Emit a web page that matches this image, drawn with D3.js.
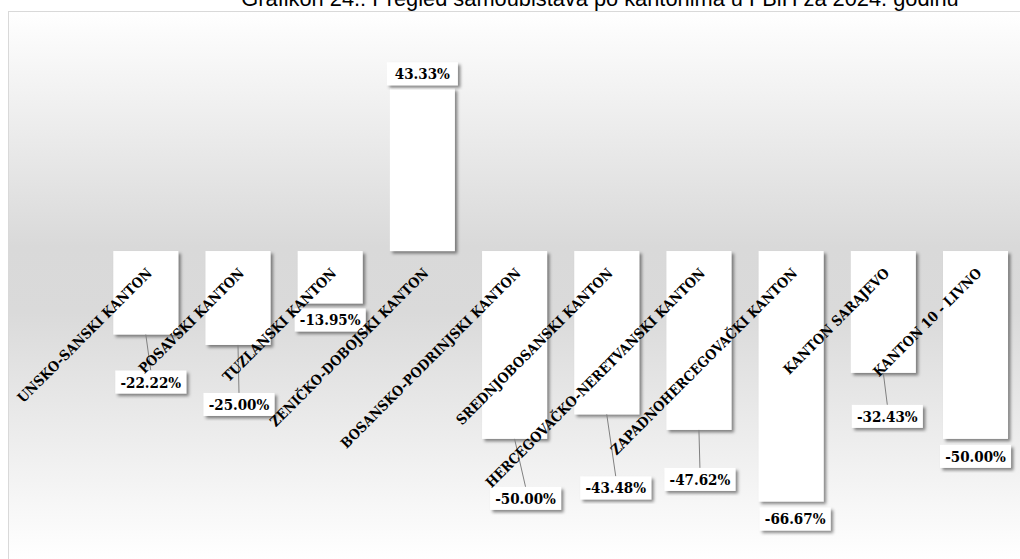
<!DOCTYPE html>
<html>
<head>
<meta charset="utf-8">
<script src="https://cdn.jsdelivr.net/npm/d3@7"></script>
<style>
  html, body { margin: 0; padding: 0; background: #ffffff; }
  svg { display: block; }
</style>
</head>
<body>
<svg id="chart" width="1020" height="559"></svg>
<script>
// ---- data ----
const categories = [
  "UNSKO-SANSKI KANTON",
  "POSAVSKI KANTON",
  "TUZLANSKI KANTON",
  "ZENIČKO-DOBOJSKI KANTON",
  "BOSANSKO-PODRINJSKI KANTON",
  "SREDNJOBOSANSKI KANTON",
  "HERCEGOVAČKO-NERETVANSKI KANTON",
  "ZAPADNOHERCEGOVAČKI KANTON",
  "KANTON SARAJEVO",
  "KANTON 10 - LIVNO"
];
const values = [-22.22, -25.00, -13.95, 43.33, -50.00, -43.48, -47.62, -66.67, -32.43, -50.00];
const titleText = "Grafikon 24.: Pregled samoubistava po kantonima u FBiH za 2024. godinu";

// ---- layout (label placement as in the original, px offsets from bar end) ----
const labelGap = [36, 48, 5, 3, 48, 62, 38, 6, 32, 6];
const labelShiftX = [5, 1, 0, 0, 11, 9, 1, 4, 4, 0];

const svg = d3.select("#chart");
const defs = svg.append("defs");

const grad = defs.append("linearGradient")
  .attr("id", "bg").attr("gradientUnits", "userSpaceOnUse")
  .attr("x1", 0).attr("y1", 11).attr("x2", 0).attr("y2", 560);
grad.append("stop").attr("offset", "0%").attr("stop-color", "#ffffff");
grad.append("stop").attr("offset", "43%").attr("stop-color", "#d9d9d9");
grad.append("stop").attr("offset", "55%").attr("stop-color", "#dadada");
grad.append("stop").attr("offset", "100%").attr("stop-color", "#ffffff");

const sh = defs.append("filter").attr("id", "shadow")
  .attr("x", "-20%").attr("y", "-20%").attr("width", "140%").attr("height", "140%");
sh.append("feDropShadow").attr("dx", 2.5).attr("dy", 2.5).attr("stdDeviation", 1.8)
  .attr("flood-color", "#000").attr("flood-opacity", 0.45);

// frame
svg.append("rect")
  .attr("x", 8.5).attr("y", 11.5).attr("width", 1200).attr("height", 620)
  .attr("fill", "url(#bg)").attr("stroke", "#d9d9d9").attr("stroke-width", 1);

// title
svg.append("text")
  .attr("x", 600).attr("y", 5.5)
  .attr("text-anchor", "middle")
  .attr("font-family", "'Liberation Sans', Arial, sans-serif")
  .attr("font-size", 21.8)
  .attr("fill", "#000")
  .text(titleText);

// scales
const x = d3.scaleBand().domain(categories).range([99.7, 1021.6])
  .paddingInner(0.295).paddingOuter(0.1475);
const y = d3.scaleLinear().domain([-70, 50]).range([514, 63.2]);
const bw = x.bandwidth();

const data = categories.map((c, i) => ({ c, v: values[i], i }));

// bars
svg.append("g").selectAll("rect").data(data).join("rect")
  .attr("x", d => x(d.c))
  .attr("y", d => Math.min(y(d.v), y(0)))
  .attr("width", bw)
  .attr("height", d => Math.abs(y(d.v) - y(0)))
  .attr("fill", "#ffffff")
  .attr("filter", "url(#shadow)");

// data labels
const boxW = 71, boxH = 23;
const fmt = v => d3.format(".2f")(v).replace("\u2212", "-") + "%";
const lab = data.map(d => {
  const cx = x(d.c) + bw / 2;
  const end = y(d.v);
  const bx = cx + labelShiftX[d.i];
  const top = d.v < 0 ? end + labelGap[d.i] : end - labelGap[d.i] - boxH;
  return { ...d, cx, end, bx, top };
});

// leader lines
svg.append("g").selectAll("line").data(lab.filter(d => labelGap[d.i] > 15)).join("line")
  .attr("x1", d => d.cx).attr("y1", d => d.end)
  .attr("x2", d => d.bx).attr("y2", d => d.top)
  .attr("stroke", "#808080").attr("stroke-width", 1);

const lg = svg.append("g").selectAll("g").data(lab).join("g")
  .attr("transform", d => `translate(${d.bx},${d.top})`);
lg.append("rect")
  .attr("x", -boxW / 2).attr("y", 0).attr("width", boxW).attr("height", boxH)
  .attr("fill", "#ffffff").attr("filter", "url(#shadow)");
lg.append("text")
  .attr("x", 0).attr("y", 17)
  .attr("text-anchor", "middle")
  .attr("font-family", "'DejaVu Serif Condensed', 'DejaVu Serif', serif")
  .attr("font-stretch", "condensed")
  .attr("font-weight", "bold")
  .attr("font-size", 15)
  .attr("fill", "#000")
  .text(d => fmt(d.v));

// category labels
svg.append("g").selectAll("text").data(data).join("text")
  .attr("transform", d => `translate(${x(d.c) + bw / 2 + 7},274) rotate(-45)`)
  .attr("text-anchor", "end")
  .attr("font-family", "'DejaVu Serif Condensed', 'DejaVu Serif', serif")
  .attr("font-stretch", "condensed")
  .attr("font-weight", "bold")
  .attr("font-size", 14)
  .attr("fill", "#000")
  .text(d => d.c);
</script>
</body>
</html>
